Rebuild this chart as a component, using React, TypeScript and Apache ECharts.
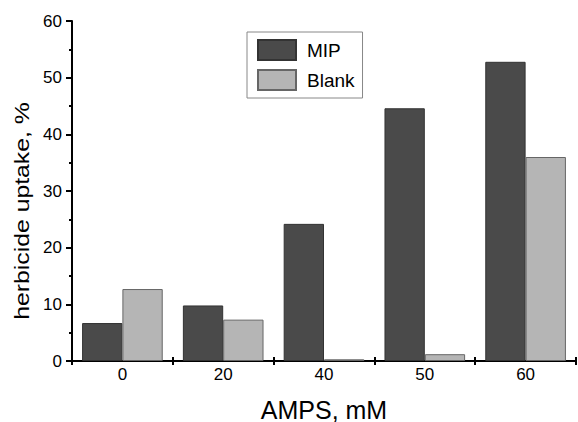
import React, { useEffect, useRef } from "react";
import * as echarts from "echarts";

const categories = ["0", "20", "40", "50", "60"];
const mipValues = [6.7, 9.8, 24.2, 44.6, 52.8];
const blankValues = [12.7, 7.3, 0.3, 1.2, 36.0];
const seriesNames = ["MIP", "Blank"];
const xAxisTitle = "AMPS, mM";
const yAxisTitle = "herbicide uptake, %";

const FONT = "'Liberation Sans', Arial, sans-serif";

export default function App() {
  const ref = useRef<HTMLDivElement>(null);
  useEffect(() => {
    if (!ref.current) return;
    const chart = echarts.init(ref.current, null, { renderer: "svg" });
    chart.setOption({
      animation: false,
      backgroundColor: "#ffffff",
      textStyle: { fontFamily: FONT, color: "#000" },
      grid: { left: 72, right: 2, top: 21, bottom: 61, containLabel: false, outerBoundsMode: "none" },
      legend: {
        orient: "vertical",
        left: 247,
        top: 32,
        padding: [7, 8, 7, 10],
        itemWidth: 38,
        itemHeight: 20,
        itemGap: 8,
        borderColor: "#888",
        borderWidth: 1,
        icon: "rect",
        textStyle: { fontFamily: FONT, fontSize: 19, color: "#000", padding: [0, 0, 0, 6] },
        data: seriesNames,
      },
      graphic: [
        {
          type: "text",
          x: 22,
          y: 211,
          rotation: Math.PI / 2,
          scaleX: 1.18,
          scaleY: 1,
          style: {
            text: yAxisTitle,
            fontFamily: FONT,
            fontSize: 21,
            fill: "#000",
            align: "center",
            verticalAlign: "middle",
          },
        },
      ],
      xAxis: [
        {
          type: "category",
          data: categories,
          position: "bottom",
          boundaryGap: true,
          axisLine: { lineStyle: { color: "#000", width: 2 } },
          axisTick: { show: true, inside: false, length: 4, lineStyle: { color: "#000", width: 2 } },
          axisLabel: { fontFamily: FONT, fontSize: 17, color: "#000", margin: 5 },
          name: xAxisTitle,
          nameLocation: "middle",
          nameGap: 36,
          nameTextStyle: { fontFamily: FONT, fontSize: 25, color: "#000" },
        },
        {
          type: "category",
          data: categories,
          position: "bottom",
          offset: 0,
          boundaryGap: true,
          axisLine: { show: false },
          axisTick: { show: true, inside: true, length: 4, lineStyle: { color: "#000", width: 2 } },
          axisLabel: { show: false },
        },
      ],
      yAxis: {
        type: "value",
        position: "left",
        min: 0,
        max: 60,
        interval: 10,
        axisLine: { show: true, onZero: false, lineStyle: { color: "#000", width: 2 } },
        axisTick: { show: true, inside: false, length: 6, lineStyle: { color: "#000", width: 2 } },
        minorTick: { show: true, splitNumber: 2, length: 3, lineStyle: { color: "#000", width: 2 } },
        splitLine: { show: false },
        axisLabel: { fontFamily: FONT, fontSize: 17, color: "#000", margin: 10 },
      },
      series: [
        {
          name: seriesNames[0],
          type: "bar",
          data: mipValues,
          barGap: "0%",
          barCategoryGap: "20%",
          itemStyle: { color: "#4a4a4a", borderColor: "#333", borderWidth: 1 },
        },
        {
          name: seriesNames[1],
          type: "bar",
          data: blankValues,
          barGap: "0%",
          barCategoryGap: "20%",
          itemStyle: { color: "#b5b5b5", borderColor: "#666", borderWidth: 1 },
        },
      ],
    });
    return () => chart.dispose();
  }, []);
  return (
    <div
      ref={ref}
      style={{ position: "fixed", left: 0, top: 0, width: 578, height: 422, background: "#fff" }}
    />
  );
}
